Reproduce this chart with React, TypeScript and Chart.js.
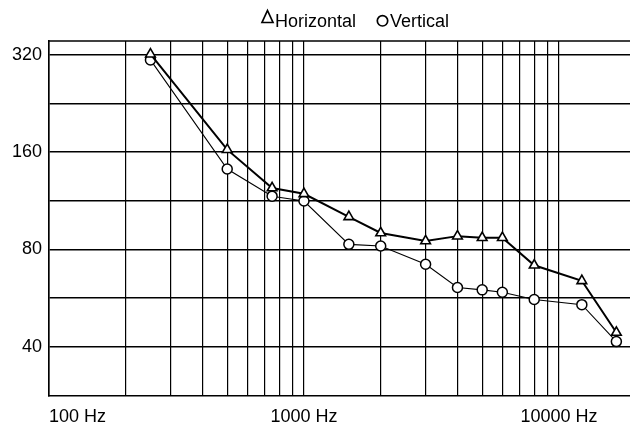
import React, { useEffect, useRef } from 'react';
import { Chart, registerables } from 'chart.js';

Chart.register(...registerables);

// ---- data ----
const frequencies = [250, 500, 750, 1000, 1500, 2000, 3000, 4000, 5000, 6000, 8000, 12300, 16800];
const horizontalValues = [322, 163, 124, 119, 101, 90, 85, 88, 87, 87, 71.5, 64, 44.3];
const verticalValues = [309, 142, 117, 113, 83, 82, 72, 61, 60, 59, 56, 54, 41.5];

const xGridValues = [100, 200, 300, 400, 500, 600, 700, 800, 900, 1000, 2000, 3000, 4000, 5000, 6000, 7000, 8000, 9000, 10000];
const xLabelValues = [100, 1000, 10000];
const xLabelTexts = ['100 Hz', '1000 Hz', '10000 Hz'];
const xMin = 100;
const xMax = 19000;

const yTickValues = [40, 56.57, 80, 113.1, 160, 226.3, 320];
const yTickLabels = ['40', '', '80', '', '160', '', '320'];
const yMin = 28.16;
const yMax = 353.6;

const seriesNames = ['Horizontal', 'Vertical'];

const FONT = '"Liberation Sans", Arial, Helvetica, sans-serif';

const frameBorder = {
  id: 'frameBorder',
  beforeDatasetsDraw(chart: any) {
    const { ctx, chartArea: a } = chart;
    ctx.save();
    ctx.strokeStyle = '#000';
    ctx.lineWidth = 1.5;
    ctx.beginPath();
    ctx.moveTo(a.left, a.top);
    ctx.lineTo(a.right, a.top);
    ctx.stroke();
    ctx.restore();
  },
};

const customLegend = {
  id: 'customLegend',
  afterDraw(chart: any) {
    const { ctx } = chart;
    ctx.save();
    ctx.fillStyle = '#000';
    ctx.strokeStyle = '#000';
    ctx.font = `18px ${FONT}`;
    ctx.textBaseline = 'alphabetic';
    ctx.textAlign = 'left';
    // triangle symbol
    ctx.lineWidth = 1.7;
    ctx.beginPath();
    ctx.moveTo(267.5, 10.5);
    ctx.lineTo(273, 22.5);
    ctx.lineTo(262, 22.5);
    ctx.closePath();
    ctx.stroke();
    ctx.fillText(seriesNames[0], 275, 26.5);
    // circle symbol
    ctx.beginPath();
    ctx.arc(382.5, 20.8, 5.2, 0, Math.PI * 2);
    ctx.stroke();
    ctx.fillText(seriesNames[1], 390, 26.5);
    ctx.restore();
  },
};

export default function App() {
  const canvasRef = useRef<HTMLCanvasElement | null>(null);

  useEffect(() => {
    const canvas = canvasRef.current;
    if (!canvas) return;
    Chart.defaults.font.family = FONT;
    const chart = new Chart(canvas, {
      type: 'line',
      data: {
        datasets: [
          {
            label: seriesNames[0],
            data: frequencies.map((f, i) => ({ x: f, y: horizontalValues[i] })),
            borderColor: '#000',
            borderWidth: 2,
            pointStyle: 'triangle',
            pointRadius: 5.6,
            pointBorderWidth: 1.6,
            pointBackgroundColor: '#fff',
            pointBorderColor: '#000',
            tension: 0,
          },
          {
            label: seriesNames[1],
            data: frequencies.map((f, i) => ({ x: f, y: verticalValues[i] })),
            borderColor: '#000',
            borderWidth: 1.1,
            pointStyle: 'circle',
            pointRadius: 5,
            pointBorderWidth: 1.5,
            pointBackgroundColor: '#fff',
            pointBorderColor: '#000',
            tension: 0,
          },
        ],
      },
      options: {
        animation: false,
        responsive: false,
        maintainAspectRatio: false,
        layout: { autoPadding: false, padding: { top: 41, left: 0, right: 0, bottom: 0 } },
        plugins: {
          legend: { display: false },
          tooltip: { enabled: false },
          title: { display: false },
        },
        scales: {
          x: {
            type: 'logarithmic',
            min: xMin,
            max: xMax,
            bounds: 'data',
            afterBuildTicks: (scale: any) => {
              scale.ticks = [...xGridValues, xMax].map((v) => ({ value: v }));
            },
            afterFit: (scale: any) => {
              scale.height = 30;
              scale.paddingLeft = 0;
              scale.paddingRight = 0;
            },
            ticks: {
              autoSkip: false,
              maxRotation: 0,
              minRotation: 0,
              align: 'inner',
              padding: 10,
              color: '#000',
              font: { size: 18, family: FONT },
              callback: (value: any) => {
                const k = xLabelValues.indexOf(Number(value));
                return k >= 0 ? xLabelTexts[k] : '';
              },
            },
            grid: {
              color: (ctx: any) => (ctx.tick && ctx.tick.value >= xMax ? 'rgba(0,0,0,0)' : '#000'),
              lineWidth: 1.2,
              drawTicks: false,
            },
            border: { display: true, color: '#000', width: 1.6 },
          },
          y: {
            type: 'logarithmic',
            min: yMin,
            max: yMax,
            bounds: 'data',
            afterBuildTicks: (scale: any) => {
              scale.ticks = yTickValues.map((v) => ({ value: v }));
            },
            afterFit: (scale: any) => {
              scale.width = 49;
            },
            ticks: {
              autoSkip: false,
              padding: 7,
              color: '#000',
              font: { size: 18, family: FONT },
              callback: (_v: any, i: number) => yTickLabels[i] ?? '',
            },
            grid: { color: '#000', lineWidth: 1.6, drawTicks: false },
            border: { display: true, color: '#000', width: 1.6 },
          },
        },
      } as any,
      plugins: [frameBorder, customLegend],
    });
    return () => chart.destroy();
  }, []);

  return (
    <div style={{ position: 'absolute', left: 0, top: 0, width: 630, height: 426, background: '#fff' }}>
      <canvas ref={canvasRef} width={630} height={426} style={{ width: 630, height: 426, display: 'block' }} />
    </div>
  );
}
